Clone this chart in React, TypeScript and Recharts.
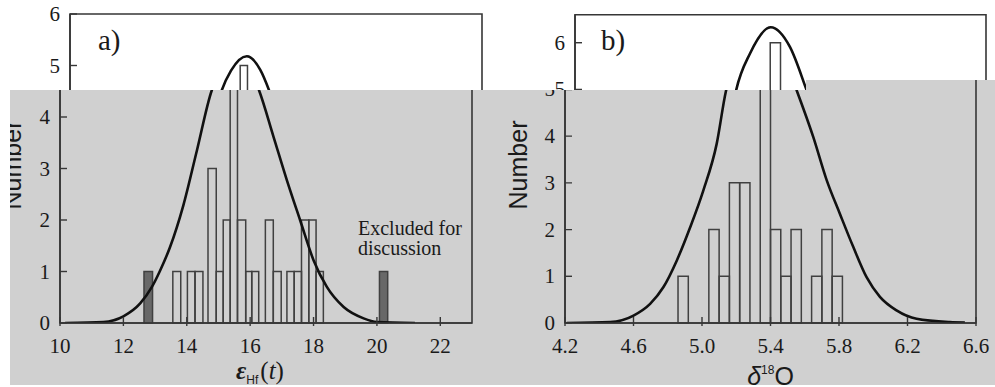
import React from 'react'
import { ComposedChart, Line, XAxis, YAxis, ReferenceArea } from 'recharts'

// ---- panel a) : eHf(t) histogram ----
const hfBinLo = [12.65, 13.56, 14.02, 14.26, 14.67, 14.93, 15.15, 15.37, 15.6, 15.86, 16.05, 16.48, 16.73, 17.16, 17.39, 17.62, 17.85, 18.08, 20.08]
const hfBinHi = [12.92, 13.81, 14.26, 14.51, 14.93, 15.15, 15.37, 15.6, 15.86, 16.05, 16.27, 16.73, 16.98, 17.39, 17.62, 17.85, 18.08, 18.31, 20.34]
const hfCount = [1, 1, 1, 1, 3, 1, 2, 5, 2, 1, 1, 2, 1, 1, 1, 2, 2, 1, 1]
const hfExcluded = [true, false, false, false, false, false, false, false, false, false, false, false, false, false, false, false, false, false, true]
const hfTicks = [10, 12, 14, 16, 18, 20, 22]
const hfCurveX = [10.16, 11.37, 12.0, 12.53, 12.9, 13.16, 13.47, 13.89, 14.32, 14.79, 15.08, 15.58, 16.0, 16.28, 16.74, 17.16, 17.58, 18.0, 18.42, 18.95, 19.58, 20.0, 21.2]
const hfCurveY = [0, 0.02, 0.13, 0.38, 0.7, 1.02, 1.47, 2.28, 3.35, 4.52, 4.9, 5.18, 4.92, 4.52, 3.61, 2.77, 1.99, 1.22, 0.7, 0.31, 0.09, 0.02, 0]

// ---- panel b) : d18O histogram ----
const oBinLo = [4.86, 5.04, 5.1, 5.16, 5.22, 5.34, 5.4, 5.46, 5.52, 5.64, 5.7, 5.76]
const oBinWidth = 0.06
const oCount = [1, 2, 1, 3, 3, 6, 2, 1, 2, 1, 2, 1]
const oTicks = [4.2, 4.6, 5.0, 5.4, 5.8, 6.2, 6.6]
const oCurveX = [4.21, 4.464, 4.6, 4.697, 4.775, 4.853, 4.931, 5.008, 5.086, 5.139, 5.222, 5.343, 5.455, 5.553, 5.65, 5.728, 5.805, 5.883, 5.961, 6.039, 6.136, 6.253, 6.447, 6.535]
const oCurveY = [0, 0.02, 0.16, 0.41, 0.77, 1.34, 2.05, 2.84, 3.84, 4.95, 5.77, 6.33, 5.91, 4.98, 3.98, 3.06, 2.34, 1.63, 0.98, 0.56, 0.27, 0.09, 0.02, 0.01]

const countTicks = [0, 1, 2, 3, 4, 5, 6]

const hfCurve = hfCurveX.map((x, i) => ({ x, y: hfCurveY[i] }))
const oCurve = oCurveX.map((x, i) => ({ x, y: oCurveY[i] }))

const INK = '#1a1a1a'
const AXIS = '#363636'
const BAR = '#404040'
const GRAY_BG = '#d0d0d0'
const SERIF = '"Liberation Serif", "DejaVu Serif", serif'
const SANS = '"Liberation Sans", Arial, sans-serif'

const YTick = (props: any) => {
    const { x, y, payload } = props
    return (
        <g>
            <line x1={x} x2={x + 7} y1={y} y2={y} stroke={AXIS} strokeWidth={1.4} />
            <text x={x - 10} y={y + 7} textAnchor="end" fontFamily={SERIF} fontSize={21} fill={INK}>{payload.value}</text>
        </g>
    )
}

const makeXTick = (decimals: number) => (props: any) => {
    const { x, y, payload } = props
    return (
        <g>
            <line x1={x} x2={x} y1={y - 6} y2={y + 3} stroke={AXIS} strokeWidth={1.4} />
            <text x={x} y={y + 30} textAnchor="middle" fontFamily={SERIF} fontSize={21} fill={INK}>
                {Number(payload.value).toFixed(decimals)}
            </text>
        </g>
    )
}

const numberLabel = (dx: number) => (props: any) => {
    const vb = props.viewBox
    const cx = vb.x + dx
    const cy = 165
    return (
        <text x={cx} y={cy} transform={`rotate(-90 ${cx} ${cy})`} textAnchor="middle" fontFamily={SANS} fontSize={25} fill={INK}>
            Number
        </text>
    )
}

const hfLabel = (props: any) => {
    const vb = props.viewBox
    return (
        <text x={vb.x + vb.width / 2 - 6} y={vb.y + 56} textAnchor="middle" fontFamily={SERIF} fontSize={25} fill={INK}>
            <tspan fontStyle="italic" fontWeight="bold">ε</tspan>
            <tspan fontFamily={SANS} fontSize={12} dy={5}>Hf</tspan>
            <tspan dy={-5} dx={2}>(</tspan>
            <tspan fontStyle="italic">t</tspan>
            <tspan>)</tspan>
        </text>
    )
}

const oLabel = (props: any) => {
    const vb = props.viewBox
    return (
        <text x={vb.x + vb.width / 2} y={vb.y + 62} textAnchor="middle" fontFamily={SANS} fontSize={25} fill={INK}>
            <tspan fontStyle="italic">δ</tspan>
            <tspan fontSize={12} dy={-11}>18</tspan>
            <tspan dy={11}>O</tspan>
        </text>
    )
}

function PanelA({ dx, dy }: { dx: number; dy: number }) {
    return (
        <div style={{ position: 'absolute', left: dx, top: dy }}>
            <ComposedChart width={495} height={387} data={hfCurve} margin={{ top: 14, right: 23, left: 0, bottom: 0 }}>
                <XAxis dataKey="x" type="number" domain={[10, 23]} ticks={hfTicks} height={64} allowDataOverflow
                    tickLine={false} tickSize={0} tickMargin={0} tick={makeXTick(0)}
                    axisLine={{ stroke: AXIS, strokeWidth: 1.6 }} label={hfLabel} />
                <YAxis type="number" domain={[0, 6]} ticks={countTicks} width={60} allowDataOverflow
                    tickLine={false} tickSize={0} tickMargin={0} tick={YTick}
                    axisLine={{ stroke: AXIS, strokeWidth: 1.6 }} label={numberLabel(21)} />
                <ReferenceArea x1={10} x2={23} y1={0} y2={6} fill="none" stroke={AXIS} strokeWidth={1.6} />
                {hfBinLo.map((lo, i) => (
                    <ReferenceArea key={i} x1={lo} x2={hfBinHi[i]} y1={0} y2={hfCount[i]}
                        fill={hfExcluded[i] ? '#686868' : 'none'} fillOpacity={1} stroke={BAR} strokeWidth={1.5} />
                ))}
                <Line type="monotone" dataKey="y" stroke="#111" strokeWidth={2.6} dot={false} activeDot={false} isAnimationActive={false} />
            </ComposedChart>
        </div>
    )
}

function PanelB({ dx, dy }: { dx: number; dy: number }) {
    return (
        <div style={{ position: 'absolute', left: dx, top: dy }}>
            <ComposedChart width={500} height={387} data={oCurve} margin={{ top: 14.7, right: 19, left: 0, bottom: 0 }}>
                <XAxis dataKey="x" type="number" domain={[4.2, 6.6]} ticks={oTicks} height={64} allowDataOverflow
                    tickLine={false} tickSize={0} tickMargin={0} tick={makeXTick(1)}
                    axisLine={{ stroke: AXIS, strokeWidth: 1.6 }} label={oLabel} />
                <YAxis type="number" domain={[0, 6.6]} ticks={countTicks} width={70} allowDataOverflow
                    tickLine={false} tickSize={0} tickMargin={0} tick={YTick}
                    axisLine={{ stroke: AXIS, strokeWidth: 1.6 }} label={numberLabel(32)} />
                <ReferenceArea x1={4.2} x2={6.6} y1={0} y2={6.6} fill="none" stroke={AXIS} strokeWidth={1.6} />
                {oBinLo.map((lo, i) => (
                    <ReferenceArea key={i} x1={lo} x2={lo + oBinWidth} y1={0} y2={oCount[i]}
                        fill="none" stroke={BAR} strokeWidth={1.5} />
                ))}
                <Line type="monotone" dataKey="y" stroke="#111" strokeWidth={2.6} dot={false} activeDot={false} isAnimationActive={false} />
            </ComposedChart>
        </div>
    )
}

export default function App() {
    return (
        <div style={{ position: 'absolute', left: 0, top: 0, width: 995, height: 387, background: '#fff', overflow: 'hidden' }}>
            {/* upper, unshaded part of the figure */}
            <div style={{ position: 'absolute', left: 0, top: 0, width: 995, height: 90, overflow: 'hidden' }}>
                <PanelA dx={10} dy={0} />
                <PanelB dx={505} dy={0} />
            </div>
            {/* shaded lower part, a) */}
            <div style={{ position: 'absolute', left: 10, top: 90, width: 485, height: 295, overflow: 'hidden', background: GRAY_BG }}>
                <PanelA dx={-10} dy={-90} />
            </div>
            {/* shaded lower part, b) */}
            <div style={{
                position: 'absolute', left: 495, top: 80, width: 500, height: 305, overflow: 'hidden', background: GRAY_BG,
                clipPath: 'polygon(0px 10px, 311px 10px, 311px 0px, 500px 0px, 500px 305px, 0px 305px)'
            }}>
                <PanelB dx={0} dy={-80} />
            </div>
            <svg width={995} height={387} style={{ position: 'absolute', left: 0, top: 0, pointerEvents: 'none' }}>
                <text x={98} y={50} fontFamily={SERIF} fontSize={29} fill={INK}>a)</text>
                <text x={601} y={50} fontFamily={SERIF} fontSize={29} fill={INK}>b)</text>
                <text x={358} y={235} fontFamily={SERIF} fontSize={20} fill={INK}>Excluded for</text>
                <text x={358} y={255} fontFamily={SERIF} fontSize={20} fill={INK}>discussion</text>
            </svg>
        </div>
    )
}
